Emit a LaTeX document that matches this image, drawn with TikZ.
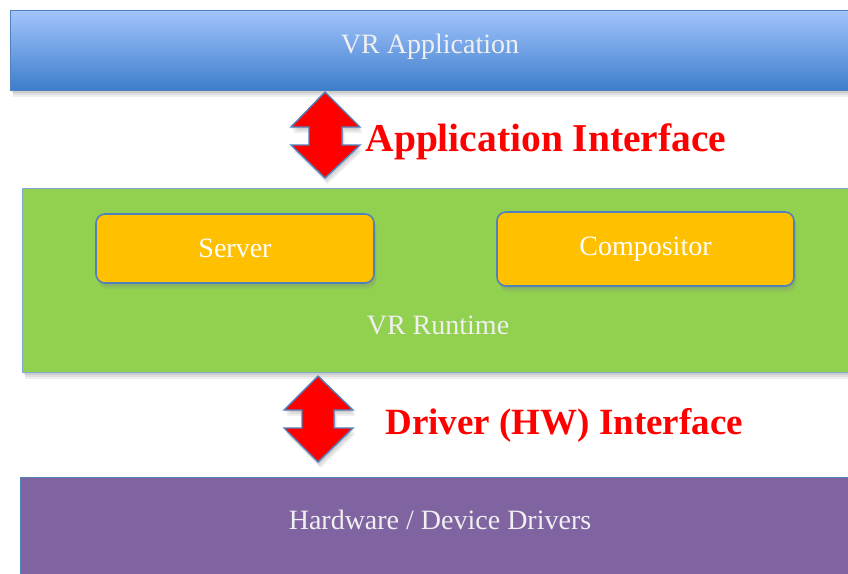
\documentclass[tikz,border=0pt]{standalone}
\usepackage{fontspec}
\setmainfont{Liberation Serif}
\usetikzlibrary{shadows}
\definecolor{appTop}{HTML}{A2C4FB}
\definecolor{appBot}{HTML}{3D7DCC}
\definecolor{edgeBlue}{HTML}{4F81BD}
\definecolor{runGreen}{HTML}{92D050}
\definecolor{compOrange}{HTML}{FFC000}
\definecolor{hwPurple}{HTML}{8064A2}
\tikzset{
  softshadow/.style={
    drop shadow={opacity=0.12, shadow xshift=2.5pt, shadow yshift=-6pt},
    drop shadow={opacity=0.15, shadow xshift=2pt, shadow yshift=-4pt},
    drop shadow={opacity=0.18, shadow xshift=1pt, shadow yshift=-2pt}},
  layer/.style={draw=edgeBlue, line width=1.2pt, anchor=north west, inner sep=0pt, softshadow},
  module/.style={draw=edgeBlue, line width=1.6pt, rounded corners=9pt, fill=compOrange,
    softshadow, font=\fontsize{28}{30}\selectfont, text=white},
  boxtext/.style={font=\fontsize{28}{30}\selectfont, text=white!94!black},
  dblarrow/.style={fill=red, draw=edgeBlue, line width=1.4pt, line join=miter, softshadow},
  iflabel/.style={font=\fontsize{38}{40}\selectfont\bfseries, text=red, anchor=west}
}
\begin{document}
\begin{tikzpicture}[x=1pt, y=-1pt]
\useasboundingbox (0,0) rectangle (848,573);
\clip (0,0) rectangle (848,573);
\fill[white] (0,0) rectangle (848,573);

% layers
\node[layer, top color=appTop, bottom color=appBot, minimum width=860pt, minimum height=80pt] (app) at (10,10) {};
\node[boxtext] (apptext) at (430,47) {VR Application};

\node[layer, fill=runGreen, draw=edgeBlue!70, line width=1pt, minimum width=850pt, minimum height=184pt] (runtime) at (22,188) {};
\node[boxtext] (runtext) at (438,325) {VR Runtime};

\node[module, minimum width=278pt, minimum height=69pt] (server) at (235,248.5) {Server};
\node[module, minimum width=297pt, minimum height=74pt] (comp) at (645.5,249) {Compositor};

\node[layer, fill=hwPurple, draw=edgeBlue, line width=1pt, minimum width=860pt, minimum height=110pt] (hw) at (20,477) {};
\node[boxtext] (hwtext) at (440,520) {Hardware / Device Drivers};

% interface arrows
\draw[dblarrow] (325,92) -- (360,127) -- (342,127) -- (342,145) -- (360,145) -- (325,178)
  -- (291,145) -- (309,145) -- (309,127) -- (291,127) -- cycle;
\node[iflabel, font=\fontsize{39.5}{42}\selectfont\bfseries] (appif) at (362,142) {Application Interface};

\draw[dblarrow] (318,376) -- (353,410) -- (334,410) -- (334,428) -- (353,428) -- (318,462)
  -- (284,428) -- (302,428) -- (302,410) -- (284,410) -- cycle;
\node[iflabel, font=\fontsize{37}{40}\selectfont\bfseries] (drvif) at (382,425) {Driver (HW) Interface};
\end{tikzpicture}
\end{document}
